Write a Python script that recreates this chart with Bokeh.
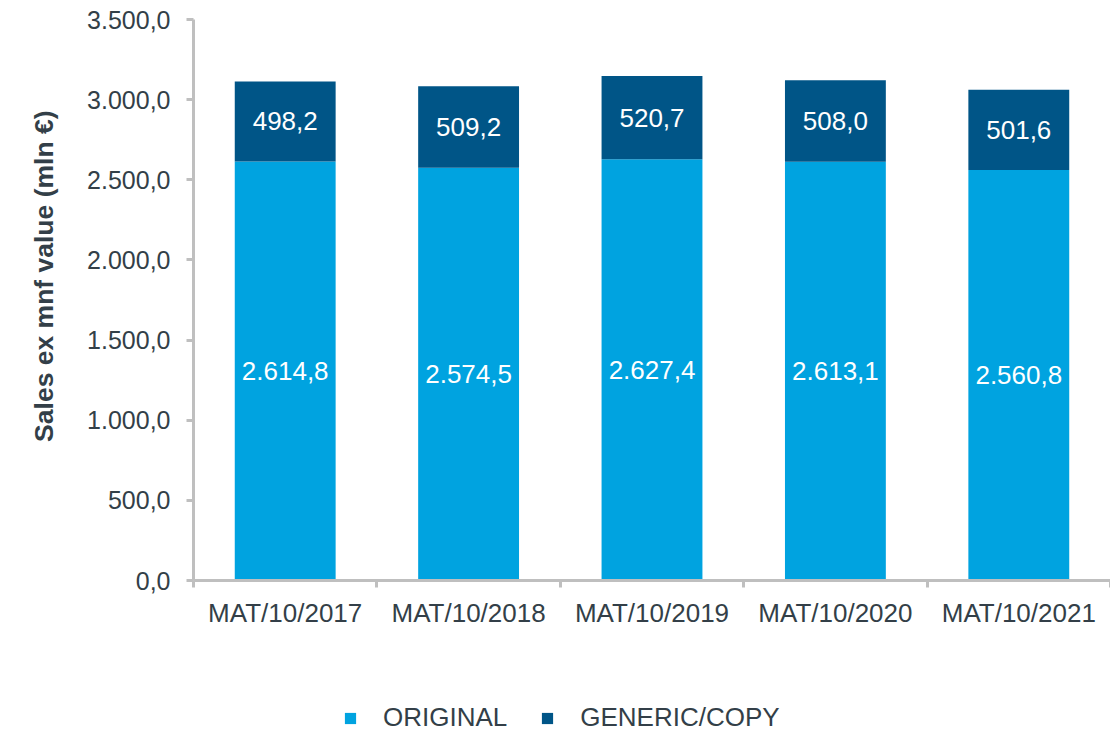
from bokeh.plotting import figure
from bokeh.layouts import column
from bokeh.models import (ColumnDataSource, Range1d, LinearAxis, FixedTicker,
                          Legend, LegendItem, Title)
from bokeh.core.properties import value
from bokeh.embed import file_html
from bokeh.resources import INLINE

categories = ["MAT/10/2017", "MAT/10/2018", "MAT/10/2019", "MAT/10/2020", "MAT/10/2021"]
original = [2614.8, 2574.5, 2627.4, 2613.1, 2560.8]
generic = [498.2, 509.2, 520.7, 508.0, 501.6]
y_ticks = [0, 500, 1000, 1500, 2000, 2500, 3000, 3500]
series_names = ["ORIGINAL", "GENERIC/COPY"]
y_title = "Sales ex mnf value (mln €)"

def fmt(v):
    s = f"{v:,.1f}"
    return s.replace(",", "X").replace(".", ",").replace("X", ".")

FONT = "Liberation Sans"
TXT = "#333F48"
AX = "#BFBFBF"
C_ORIG = "#00A3E0"
C_GEN = "#005587"
FS = "25px"

xs = [i + 0.5 for i in range(len(categories))]
top_gen = [o + g for o, g in zip(original, generic)]
src = ColumnDataSource(dict(
    x=xs, orig=original, gen=generic, top_gen=top_gen,
    y_orig_lbl=[o / 2 for o in original],
    y_gen_lbl=[o + g / 2 for o, g in zip(original, generic)],
    orig_lbl=[fmt(v) for v in original],
    gen_lbl=[fmt(v) for v in generic],
))

MAIN_H = 640
p = figure(width=1110, height=MAIN_H, output_backend="svg", toolbar_location=None,
           x_range=Range1d(0, len(categories)), y_range=Range1d(0, 3500),
           x_axis_type=None, y_axis_type=None,
           min_border_left=193, min_border_right=0, min_border_top=19,
           min_border_bottom=MAIN_H - 580)
p.outline_line_color = None
p.xgrid.visible = False
p.ygrid.visible = False
p.background_fill_color = "white"

p.vbar(x="x", bottom=0, top="orig", width=0.55, source=src,
       fill_color=C_ORIG, line_color=None)
p.vbar(x="x", bottom="orig", top="top_gen", width=0.55, source=src,
       fill_color=C_GEN, line_color=None)

p.text(x="x", y="y_orig_lbl", text="orig_lbl", source=src, text_color="white",
       text_font=value(FONT), text_font_size="26px", text_align="center",
       text_baseline="middle")
p.text(x="x", y="y_gen_lbl", text="gen_lbl", source=src, text_color="white",
       text_font=value(FONT), text_font_size="26px", text_align="center",
       text_baseline="middle")

# y axis
yax = LinearAxis(ticker=FixedTicker(ticks=y_ticks, minor_ticks=[]),
                 major_label_overrides={t: fmt(t) for t in y_ticks})
yax.axis_line_color = AX
yax.axis_line_width = 3
yax.major_tick_line_color = AX
yax.major_tick_line_width = 3
yax.major_tick_in = 0
yax.major_tick_out = 7
yax.minor_tick_line_color = None
yax.major_label_text_font = FONT
yax.major_label_text_font_size = FS
yax.major_label_text_color = TXT
yax.major_label_standoff = 16
p.add_layout(yax, "left")

ttl = Title(text=y_title, align="right", offset=91, standoff=52,
            text_font=FONT, text_font_size="26.5px", text_font_style="bold",
            text_color=TXT)
p.add_layout(ttl, "left")

# x axis, ticks at category boundaries
xax = LinearAxis(ticker=FixedTicker(ticks=xs, minor_ticks=list(range(len(categories) + 1))),
                 major_label_overrides={x: c for x, c in zip(xs, categories)})
xax.axis_line_color = AX
xax.axis_line_width = 3
xax.major_tick_line_color = None
xax.minor_tick_line_color = AX
xax.minor_tick_line_width = 3
xax.minor_tick_in = 0
xax.minor_tick_out = 7
xax.major_label_text_font = FONT
xax.major_label_text_font_size = "26px"
xax.major_label_text_color = TXT
xax.major_label_standoff = 10
p.add_layout(xax, "below")

# legend strip below the chart (its frame aligns with the chart frame)
LEG_H = 733 - MAIN_H
lf = figure(width=1110, height=LEG_H, output_backend="svg", toolbar_location=None,
            x_range=Range1d(0, 1), y_range=Range1d(0, 1),
            x_axis_type=None, y_axis_type=None,
            min_border_left=0, min_border_right=0, min_border_top=0,
            min_border_bottom=0)
lf.outline_line_color = None
lf.xgrid.visible = False
lf.ygrid.visible = False
lr1 = lf.vbar(x="x", bottom=0, top="orig", width=0.55, source=src,
              fill_color=C_ORIG, line_color=None, visible=False)
lr2 = lf.vbar(x="x", bottom="orig", top="top_gen", width=0.55, source=src,
              fill_color=C_GEN, line_color=None, visible=False)
legend = Legend(items=[LegendItem(label=series_names[0], renderers=[lr1]),
                       LegendItem(label=series_names[1], renderers=[lr2])],
                orientation="horizontal", location=(150, 0))
legend.margin = 0
legend.glyph_width = 14
legend.glyph_height = 14
legend.label_standoff = 26
legend.spacing = 33
legend.padding = 0
legend.border_line_color = None
legend.background_fill_alpha = 0
legend.inactive_fill_alpha = 0
legend.click_policy = "none"
legend.label_text_font = FONT
legend.label_text_font_size = "26px"
legend.label_text_color = TXT
lf.add_layout(legend, "center")

open("out.html", "w").write(file_html(column(p, lf, spacing=0), INLINE))
